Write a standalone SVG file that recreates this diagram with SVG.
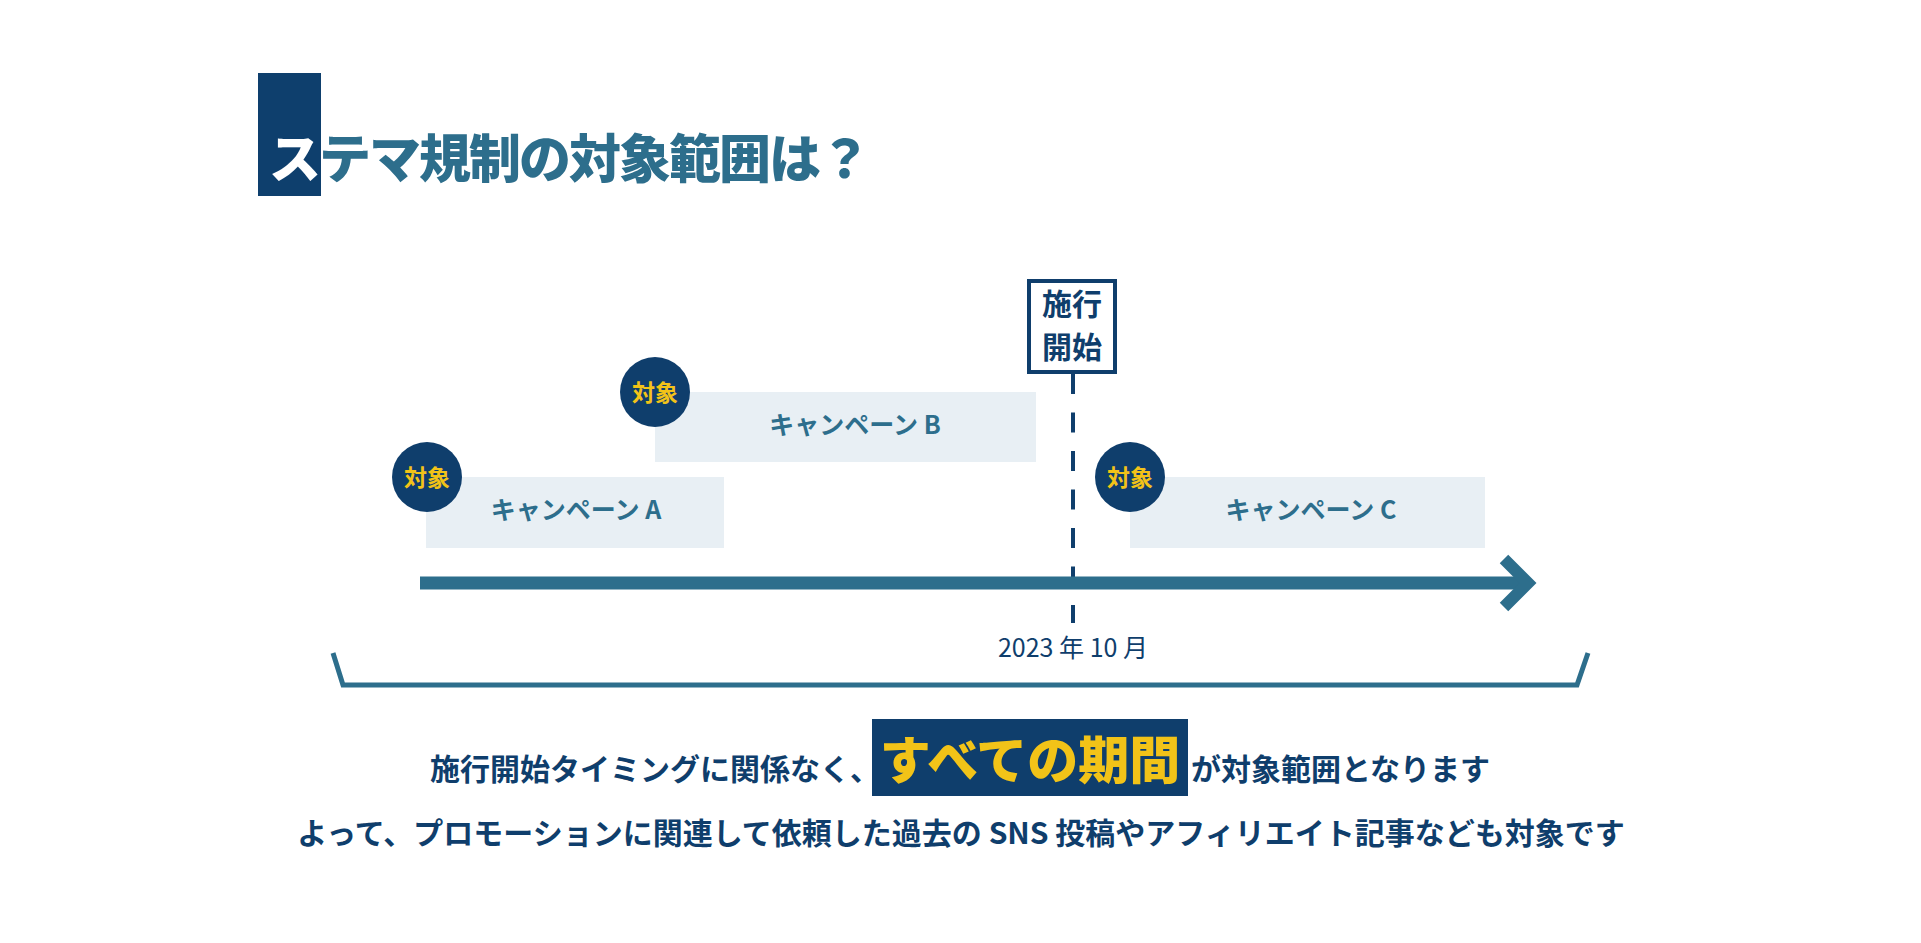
<svg xmlns="http://www.w3.org/2000/svg" width="1921" height="943" viewBox="0 0 1921 943">
  <style>
    .jp { font-family: "Noto Sans CJK JP", "Noto Sans", sans-serif; }
    .b { font-weight: 700; }
    .k { font-weight: 900; }
    .navy { fill: #0f3e6c; }
    .teal { fill: #2d6e8c; }
    .yellow { fill: #f2c318; }
    .bar { fill: #e8eff4; }
    .badge { fill: #0f3e6c; }
    .lbl { font-size: 25px; text-anchor: middle; }
    .tag { font-size: 23px; text-anchor: middle; }
  </style>
  <rect width="1921" height="943" fill="#ffffff"/>

  <g id="title">
    <rect x="258" y="73" width="63" height="123" fill="#0e3f6d"/>
    <text class="jp k teal" x="269" y="178" font-size="52" letter-spacing="-2"><tspan fill="#ffffff">ス</tspan>テマ規制の対象範囲は？</text>
  </g>

  <g id="connectors">
    <line x1="1073" y1="374" x2="1073" y2="623" stroke="#0f3e6c" stroke-width="4" stroke-dasharray="20 18.5"/>
    <line x1="420" y1="583" x2="1526" y2="583" stroke="#2d6e8c" stroke-width="13"/>
    <polyline points="1504,559 1528,583 1504,607" fill="none" stroke="#2d6e8c" stroke-width="12"/>
    <polyline points="333,653 343,685 1577,685 1588,653" fill="none" stroke="#2d6e8c" stroke-width="5"/>
  </g>

  <g id="start-marker">
    <rect x="1029" y="281" width="86" height="91" fill="#ffffff" stroke="#0f3e6c" stroke-width="4"/>
    <text class="jp b navy" x="1072" y="315" font-size="30" text-anchor="middle">施行</text>
    <text class="jp b navy" x="1072" y="358" font-size="30" text-anchor="middle">開始</text>
  </g>

  <g id="campaign-b">
    <rect class="bar" x="655" y="392" width="381" height="70"/>
    <circle class="badge" cx="655" cy="392" r="35"/>
    <text class="jp b yellow tag" x="655" y="401">対象</text>
    <text class="jp b teal lbl" x="855" y="434">キャンペーン B</text>
  </g>

  <g id="campaign-a">
    <rect class="bar" x="426" y="477" width="298" height="71"/>
    <circle class="badge" cx="427" cy="477" r="35"/>
    <text class="jp b yellow tag" x="427" y="486">対象</text>
    <text class="jp b teal lbl" x="576" y="519">キャンペーン A</text>
  </g>

  <g id="campaign-c">
    <rect class="bar" x="1130" y="477" width="355" height="71"/>
    <circle class="badge" cx="1130" cy="477" r="35"/>
    <text class="jp b yellow tag" x="1130" y="486">対象</text>
    <text class="jp b teal lbl" x="1311" y="519">キャンペーン C</text>
  </g>

  <g id="date">
    <text class="jp navy" x="1073" y="657" font-size="25" text-anchor="middle">2023 年 10 月</text>
  </g>

  <g id="summary">
    <text class="jp b navy" x="880" y="780" font-size="30" text-anchor="end">施行開始タイミングに関係なく、</text>
    <rect x="872" y="719" width="316" height="77" fill="#0f3e6c"/>
    <text class="jp k yellow" x="1030" y="779" font-size="51" text-anchor="middle">すべての期間</text>
    <text class="jp b navy" x="1191" y="780" font-size="30">が対象範囲となります</text>
    <text class="jp b navy" x="961" y="844" font-size="30" text-anchor="middle">よって、プロモーションに関連して依頼した過去の SNS 投稿やアフィリエイト記事なども対象です</text>
  </g>
</svg>
